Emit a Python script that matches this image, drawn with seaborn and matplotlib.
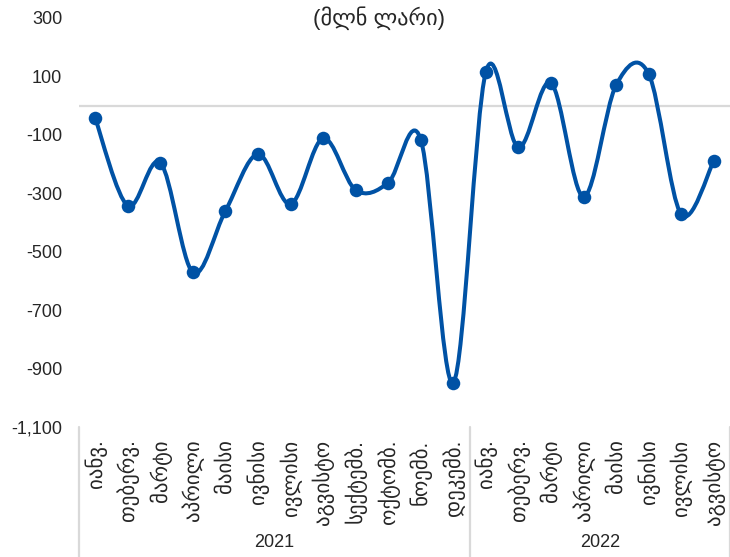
import numpy as np
import pandas as pd
import matplotlib
matplotlib.use("Agg")
import matplotlib.pyplot as plt
import matplotlib.transforms as mtransforms
from matplotlib.path import Path
from matplotlib.patches import PathPatch
import seaborn as sns

# monthly values (mln GEL)
months = ["იანვ.", "თებერვ.", "მარტი", "აპრილი", "მაისი", "ივნისი",
          "ივლისი", "აგვისტო", "სექტემბ.", "ოქტომბ.", "ნოემბ.", "დეკემბ.",
          "იანვ.", "თებერვ.", "მარტი", "აპრილი", "მაისი", "ივნისი",
          "ივლისი", "აგვისტო"]
years = ["2021"] * 12 + ["2022"] * 8
values = [-44, -343, -195, -571, -360, -166, -337, -112, -289, -264, -116, -948,
          116, -143, 78, -312, 70, 109, -372, -190]
y_ticks = [300, 100, -100, -300, -500, -700, -900, -1100]

df = pd.DataFrame({"month": months, "year": years, "value": values})
df["pos"] = np.arange(len(df))

blue = "#0052A5"
grey = "#D9D9D9"

sns.set_style("white")
plt.rcParams["font.family"] = ["Liberation Sans", "DejaVu Sans"]

W, H = 730, 557
fig = plt.figure(figsize=(W / 100, H / 100), dpi=100)
ax = fig.add_axes([79 / W, 130 / H, (W - 79) / W, (427 - 18) / H])

ax.axhline(0, color=grey, lw=1.6, zorder=1)

# smoothed line (catmull-rom style bezier, like excel "smoothed line")
x = df["pos"].to_numpy(float)
y = df["value"].to_numpy(float)
px = np.r_[x[0], x, x[-1]]
py = np.r_[y[0], y, y[-1]]
verts = [(x[0], y[0])]
codes = [Path.MOVETO]
for i in range(len(x) - 1):
    j = i + 1
    c1 = (px[j] + (px[j + 1] - px[j - 1]) / 6, py[j] + (py[j + 1] - py[j - 1]) / 6)
    c2 = (px[j + 1] - (px[j + 2] - px[j]) / 6, py[j + 1] - (py[j + 2] - py[j]) / 6)
    verts += [c1, c2, (x[i + 1], y[i + 1])]
    codes += [Path.CURVE4] * 3
ax.add_patch(PathPatch(Path(verts, codes), facecolor="none", edgecolor=blue,
                       lw=2.9, zorder=2, capstyle="round", joinstyle="round"))

sns.scatterplot(data=df, x="pos", y="value", color=blue, s=95, edgecolor=blue,
                linewidth=0, zorder=3, ax=ax, legend=False)

ax.set_xlim(-0.5, len(df) - 0.5)
ax.set_ylim(-1100, 300)
ax.set_yticks(y_ticks)
ax.set_yticklabels([f"{v:,}" for v in y_ticks], fontsize=13)
ax.set_xticks(df["pos"])
ax.set_xticklabels(df["month"], rotation=90, fontsize=15)
ax.tick_params(axis="y", length=0, pad=12)
ax.tick_params(axis="x", length=0, pad=9)
ax.set_xlabel("")
ax.set_ylabel("")
for s in ax.spines.values():
    s.set_visible(False)

# year group labels and separators
trans = mtransforms.blended_transform_factory(ax.transData, ax.transAxes)
bottom = -130 / 409
for xs in [-0.5, 11.5, len(df) - 0.5]:
    ax.plot([xs, xs], [0, bottom], color=grey, lw=1.6, transform=trans,
            clip_on=False)
for yr, grp in df.groupby("year"):
    ax.text(grp["pos"].mean(), -0.2836, yr, transform=trans, ha="center",
            va="center", fontsize=13)

fig.text(379 / W, 1 - 18 / H, "(მლნ ლარი)", ha="center", va="center",
         fontsize=16)

fig.savefig("out.png", dpi=100)
